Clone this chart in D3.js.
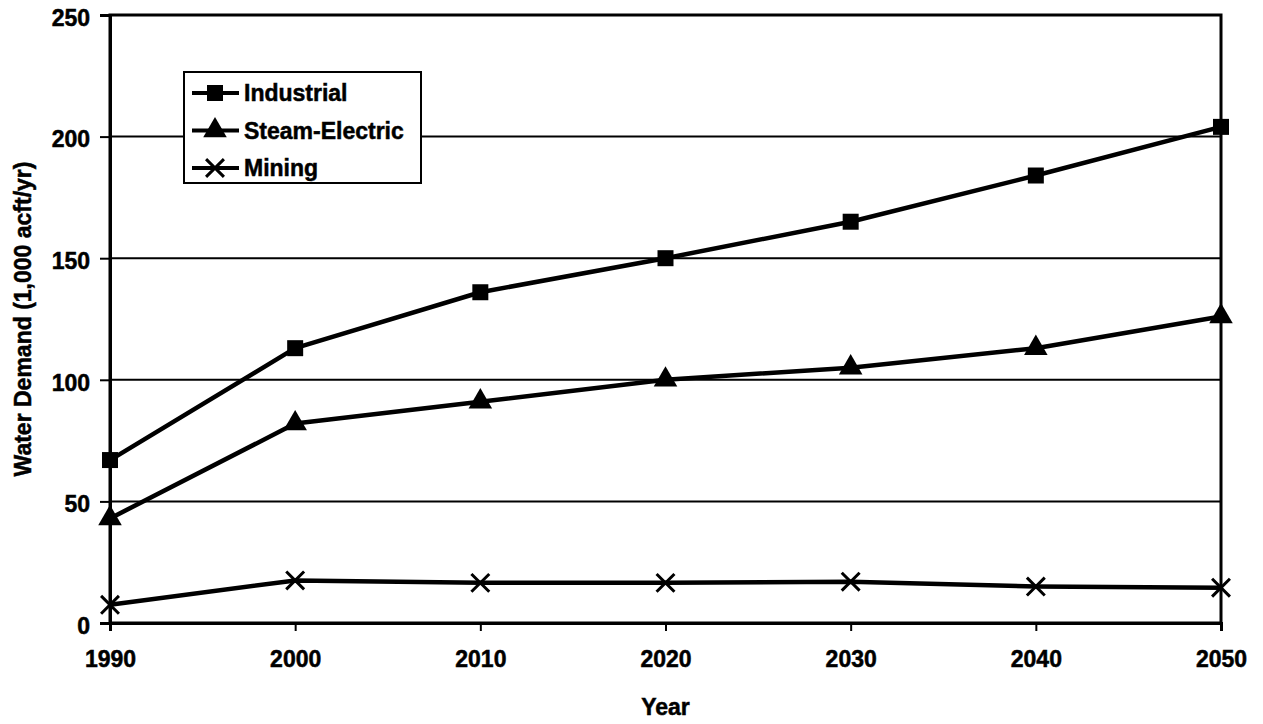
<!DOCTYPE html>
<html>
<head>
<meta charset="utf-8">
<script src="https://cdn.jsdelivr.net/npm/d3@7"></script>
<style>
  html, body { margin: 0; padding: 0; background: #fff; }
  svg { display: block; }
  text { font-family: "Liberation Sans", Arial, sans-serif; font-weight: bold; fill: #000; stroke: #000; stroke-width: 0.5px; }
</style>
</head>
<body>
<svg id="chart" width="1263" height="724"></svg>
<script>
// Projected water demand by use category (1,000 acft/yr)
const years = [1990, 2000, 2010, 2020, 2030, 2040, 2050];
const industrial = [67, 113, 136, 150, 165, 184, 204];
const steamElectric = [43, 82, 91, 100, 105, 113, 126];
const mining = [7.5, 17.5, 16.5, 16.5, 17, 15, 14.5];
const yTicks = [0, 50, 100, 150, 200, 250];
const seriesNames = ["Industrial", "Steam-Electric", "Mining"];

const svg = d3.select("#chart");
const plot = { left: 110, right: 1221, top: 15, bottom: 623 };

const x = d3.scaleLinear().domain([1990, 2050]).range([plot.left, plot.right]);
const y = d3.scaleLinear().domain([0, 250]).range([plot.bottom, plot.top]);

// horizontal gridlines
svg.append("g")
  .selectAll("line")
  .data(yTicks.filter(d => d > 0 && d < 250))
  .join("line")
  .attr("x1", plot.left).attr("x2", plot.right)
  .attr("y1", d => y(d)).attr("y2", d => y(d))
  .attr("stroke", "#000").attr("stroke-width", 2);

// plot frame
svg.append("rect")
  .attr("x", plot.left).attr("y", plot.top)
  .attr("width", plot.right - plot.left).attr("height", plot.bottom - plot.top)
  .attr("fill", "none").attr("stroke", "#000").attr("stroke-width", 3);

// y axis
const yAxis = svg.append("g")
  .attr("transform", `translate(${plot.left},0)`)
  .call(d3.axisLeft(y).tickValues(yTicks).tickSize(10).tickPadding(10));
yAxis.select(".domain").attr("stroke", "#000").attr("stroke-width", 3);
yAxis.selectAll(".tick line").attr("stroke", "#000").attr("stroke-width", 2);
yAxis.selectAll(".tick text")
  .attr("font-size", 23).attr("font-family", null).attr("dy", "0.45em");

// x axis
const xAxis = svg.append("g")
  .attr("transform", `translate(0,${plot.bottom})`)
  .call(d3.axisBottom(x).tickValues(years).tickFormat(d3.format("d")).tickSize(8).tickPadding(20));
xAxis.select(".domain").attr("stroke", "#000").attr("stroke-width", 3);
xAxis.selectAll(".tick line").attr("stroke", "#000").attr("stroke-width", 2);
xAxis.selectAll(".tick text").attr("font-size", 23).attr("font-family", null);

// axis titles
svg.append("text")
  .attr("x", (plot.left + plot.right) / 2).attr("y", 715)
  .attr("text-anchor", "middle").attr("font-size", 23)
  .text("Year");
svg.append("text")
  .attr("transform", `translate(31,${(plot.top + plot.bottom) / 2}) rotate(-90)`)
  .attr("text-anchor", "middle").attr("font-size", 23)
  .text("Water Demand (1,000 acft/yr)");

// marker shapes
const squareSym = d3.symbol().type(d3.symbolSquare).size(256);
const triSym = d3.symbol().type(d3.symbolTriangle).size(240);
const crossSym = d3.symbol().type(d3.symbolX).size(210);

const series = [
  { name: seriesNames[0], values: industrial, sym: squareSym, fill: "#000", stroke: "none" },
  { name: seriesNames[1], values: steamElectric, sym: triSym, fill: "#000", stroke: "none" },
  { name: seriesNames[2], values: mining, sym: crossSym, fill: "none", stroke: "#000" }
];

const line = d3.line().x(d => x(d[0])).y(d => y(d[1]));

series.forEach(s => {
  const pts = years.map((yr, i) => [yr, s.values[i]]);
  svg.append("path")
    .datum(pts)
    .attr("d", line)
    .attr("fill", "none").attr("stroke", "#000").attr("stroke-width", 4.5)
    .attr("stroke-linejoin", "round");
  svg.append("g")
    .selectAll("path")
    .data(pts)
    .join("path")
    .attr("transform", d => `translate(${x(d[0])},${y(d[1])})`)
    .attr("d", s.sym())
    .attr("fill", s.fill)
    .attr("stroke", s.stroke)
    .attr("stroke-width", 3);
});

// legend
const legend = svg.append("g").attr("transform", "translate(184,72)");
legend.append("rect")
  .attr("width", 237).attr("height", 111)
  .attr("fill", "#fff").attr("stroke", "#000").attr("stroke-width", 2);
const rowY = d3.scalePoint().domain(seriesNames).range([21, 96]);
series.forEach(s => {
  const g = legend.append("g").attr("transform", `translate(0,${rowY(s.name)})`);
  g.append("line").attr("x1", 8).attr("x2", 55).attr("y1", 0).attr("y2", 0)
    .attr("stroke", "#000").attr("stroke-width", 4);
  g.append("path").attr("transform", "translate(31,0)")
    .attr("d", s.sym())
    .attr("fill", s.fill).attr("stroke", s.stroke).attr("stroke-width", 3);
  g.append("text").attr("x", 60).attr("y", 8).attr("font-size", 23).text(s.name);
});
</script>
</body>
</html>
